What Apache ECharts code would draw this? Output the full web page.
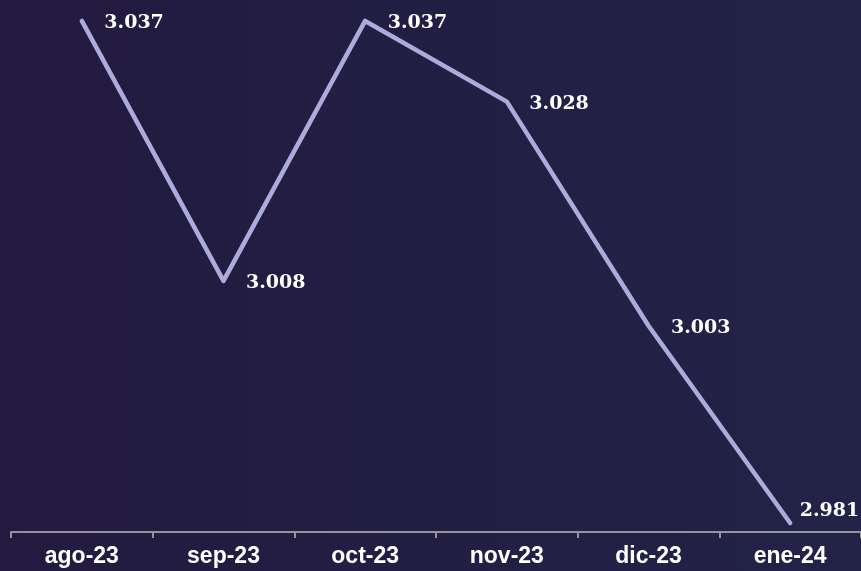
<!DOCTYPE html>
<html><head><meta charset="utf-8">
<script src="https://cdn.jsdelivr.net/npm/echarts@6/dist/echarts.min.js"></script>
<style>html,body{margin:0;padding:0;}#c{width:861px;height:571px;}</style>
</head><body><div id="c"></div>
<script>
const categories = ['ago-23','sep-23','oct-23','nov-23','dic-23','ene-24'];
const values = [3.037, 3.008, 3.037, 3.028, 3.003, 2.981];
const chart = echarts.init(document.getElementById('c'));
chart.setOption({
  backgroundColor: {type:'linear', x:0, y:0, x2:1, y2:0, colorStops:[{offset:0,color:'#231a3f'},{offset:1,color:'#222347'}]},
  grid: {left: 11, right: 0, top: 3, bottom: 39},
  xAxis: {
    type: 'category', data: categories, boundaryGap: true,
    axisLine: {lineStyle: {color: '#959595', width: 2}},
    axisTick: {show: true, length: 6, lineStyle: {color: '#959595', width: 2}},
    axisLabel: {color: '#ffffff', fontFamily: 'Liberation Sans', fontWeight: 'bold', fontSize: 23, margin: 13}
  },
  yAxis: {type: 'value', min: 2.98, max: 3.039, show: false, splitLine: {show: false}},
  series: [{
    type: 'line', data: values.map((v,i)=> i===5 ? {value:v, label:{offset:[-13,-12]}} : v),
    showSymbol: true, symbol: 'circle', symbolSize: 1,
    itemStyle: {color: 'rgba(0,0,0,0)', borderWidth: 0},
    lineStyle: {color: '#acacdc', width: 4.5, cap: 'round', join: 'round'},
    label: {show: true, position: 'right', distance: 22, offset: [0, 2], color: '#ffffff', fontFamily: 'DejaVu Serif', fontWeight: 'bold', fontSize: 19,
      formatter: p => p.value.toFixed(3)},
    emphasis: {disabled: true},
    animation: false
  }]
});
</script></body></html>
